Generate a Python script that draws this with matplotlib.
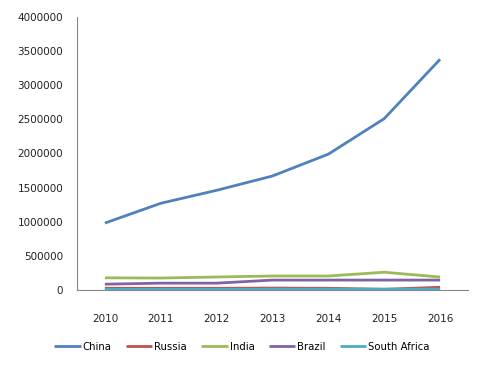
import matplotlib
matplotlib.use("Agg")
import matplotlib.pyplot as plt

years = ["2010", "2011", "2012", "2013", "2014", "2015", "2016"]
china = [980000, 1270000, 1460000, 1670000, 1990000, 2510000, 3380000]
russia = [25000, 25000, 25000, 28000, 25000, 10000, 40000]
india = [178000, 175000, 190000, 205000, 205000, 260000, 190000]
brazil = [85000, 100000, 100000, 145000, 145000, 145000, 145000]
south_africa = [10000, 10000, 10000, 12000, 12000, 12000, 12000]

series = [
    ("China", china, "#4F81BD"),
    ("Russia", russia, "#C0504D"),
    ("India", india, "#9BBB59"),
    ("Brazil", brazil, "#8064A2"),
    ("South Africa", south_africa, "#4BACC6"),
]

fig = plt.figure(figsize=(4.84, 3.68), dpi=100)
ax = fig.add_axes([0.159, 0.212, 0.808, 0.742])

x = range(len(years))
for name, vals, col in series:
    ax.plot(x, vals, color=col, lw=2.0, label=name, solid_capstyle="butt")

ax.set_xlim(-0.5, len(years) - 0.5)
ax.set_ylim(0, 4000000)
ax.set_yticks(range(0, 4000001, 500000))
ax.set_yticklabels([str(v) for v in range(0, 4000001, 500000)])
ax.set_xticks(list(x))
ax.set_xticklabels(years)
ax.tick_params(axis="both", length=0, labelsize=7.5, colors="#222222")
ax.tick_params(axis="x", pad=17)
ax.tick_params(axis="y", pad=10)

for s in ["top", "right"]:
    ax.spines[s].set_visible(False)
for s in ["left", "bottom"]:
    ax.spines[s].set_color("#888888")
    ax.spines[s].set_linewidth(0.8)

fig.legend(loc="center", bbox_to_anchor=(0.5, 0.057), ncol=5, frameon=False,
           fontsize=7.3, handlelength=2.6, handletextpad=0.2, columnspacing=1.4)

fig.savefig("out.png", dpi=100)
